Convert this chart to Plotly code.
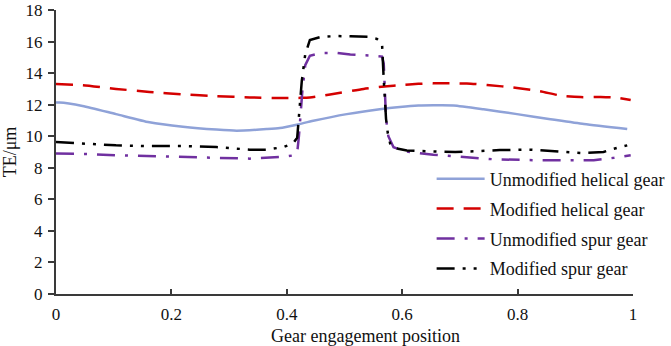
import plotly.graph_objects as go

# Unmodified helical gear
x_uh = [0, 0.006, 0.046, 0.104, 0.162, 0.22, 0.278, 0.313, 0.365, 0.388, 0.417, 0.446, 0.504,
        0.561, 0.596, 0.628, 0.654, 0.689, 0.741, 0.799, 0.857, 0.915, 0.99]
y_uh = [12.13, 12.14, 11.92, 11.4, 10.88, 10.6, 10.42, 10.35, 10.45, 10.52, 10.73, 10.98, 11.4,
        11.71, 11.85, 11.94, 11.96, 11.95, 11.71, 11.4, 11.08, 10.77, 10.46]

# Modified helical gear
x_mh = [0, 0.046, 0.104, 0.162, 0.22, 0.278, 0.336, 0.389, 0.42, 0.44, 0.475, 0.533, 0.574,
        0.596, 0.628, 0.654, 0.712, 0.747, 0.799, 0.839, 0.874, 0.909, 0.944, 0.972, 0.996]
y_mh = [13.31, 13.23, 13.0, 12.81, 12.65, 12.54, 12.46, 12.42, 12.43, 12.45, 12.65, 13.0, 13.17,
        13.24, 13.32, 13.35, 13.34, 13.25, 13.06, 12.85, 12.58, 12.48, 12.48, 12.44, 12.29]

# Unmodified spur gear
x_us = [0, 0.046, 0.104, 0.162, 0.22, 0.278, 0.336, 0.394, 0.414, 0.418, 0.421, 0.427, 0.432,
        0.44, 0.46, 0.488, 0.51, 0.55, 0.565, 0.568, 0.57, 0.572, 0.576, 0.585, 0.6, 0.613,
        0.654, 0.7, 0.758, 0.828, 0.886, 0.932, 0.967, 0.996]
y_us = [8.9, 8.88, 8.79, 8.73, 8.69, 8.63, 8.58, 8.69, 8.8, 8.95, 10.0, 12.9, 14.5,
        15.1, 15.28, 15.28, 15.18, 15.1, 15.05, 14.6, 12.8, 11.1, 10.0, 9.3, 9.1, 9.0,
        8.83, 8.69, 8.54, 8.48, 8.46, 8.48, 8.63, 8.79]

# Modified spur gear
x_ms = [0, 0.046, 0.104, 0.162, 0.22, 0.278, 0.336, 0.365, 0.394, 0.405, 0.412, 0.418, 0.421,
        0.426, 0.432, 0.44, 0.46, 0.488, 0.51, 0.54, 0.556, 0.565, 0.568, 0.57, 0.572, 0.575,
        0.58, 0.593, 0.608, 0.648, 0.692, 0.735, 0.769, 0.822, 0.862, 0.909, 0.949, 0.966, 0.99]
y_ms = [9.63, 9.52, 9.42, 9.375, 9.375, 9.31, 9.15, 9.15, 9.31, 9.46, 9.6, 9.9, 11.5,
        13.5, 15.2, 16.1, 16.3, 16.35, 16.33, 16.3, 16.17, 15.9, 13.6, 12.5, 11.1, 10.2,
        9.4, 9.2, 9.1, 9.04, 9.0, 9.06, 9.125, 9.15, 9.06, 8.94, 9.0, 9.2, 9.42]

names = ["Unmodified helical gear", "Modified helical gear",
         "Unmodified spur gear", "Modified spur gear"]
x_ticks = [0, 0.2, 0.4, 0.6, 0.8, 1]
x_tick_text = ["0", "0.2", "0.4", "0.6", "0.8", "1"]
y_ticks = [0, 2, 4, 6, 8, 10, 12, 14, 16, 18]

FONT = "Liberation Serif, Times New Roman, serif"
AX = "#3a3a3a"

fig = go.Figure()
fig.add_trace(go.Scatter(x=x_uh, y=y_uh, mode="lines", name=names[0], legendgroup="a",
                         line=dict(color="#8FA2D8", width=2.5, shape="spline", smoothing=0.6)))
fig.add_trace(go.Scatter(x=x_mh, y=y_mh, mode="lines", name=names[1], legendgroup="b",
                         line=dict(color="#D40000", width=2.5, dash="17px,10px",
                                   shape="spline", smoothing=0.6)))
fig.add_trace(go.Scatter(x=x_us, y=y_us, mode="lines", name=names[2], legendgroup="c",
                         line=dict(color="#7030A0", width=2.5, dash="18px,10px,3px,10px")))
fig.add_trace(go.Scatter(x=x_ms, y=y_ms, mode="lines", name=names[3], legendgroup="d",
                         line=dict(color="#000000", width=2.5,
                                   dash="18px,8px,3px,8px,3px,8px")))

fig.update_layout(
    width=671, height=346,
    margin=dict(l=56, r=38, t=10, b=52, autoexpand=False),
    paper_bgcolor="white", plot_bgcolor="white",
    font=dict(family=FONT, size=17, color="#111"),
    showlegend=True,
    legend=dict(x=0.651, y=0.47, xanchor="left", yanchor="top",
                bgcolor="rgba(0,0,0,0)", font=dict(family=FONT, size=18, color="#111"),
                traceorder="grouped", tracegroupgap=3.5, itemwidth=48),
    xaxis=dict(range=[0, 1], tickvals=x_ticks, ticktext=x_tick_text,
               showgrid=False, zeroline=False, showline=True, linecolor=AX, linewidth=2,
               ticks="inside", ticklen=5, tickwidth=1.5, tickcolor=AX,
               ticklabelstandoff=4, ticklabeloverflow="allow", automargin=False,
               tickfont=dict(family=FONT, size=17)),
    yaxis=dict(range=[0, 18], tickvals=y_ticks,
               showgrid=False, zeroline=False, showline=True, linecolor=AX, linewidth=2,
               ticks="outside", ticklen=6, tickwidth=1.5, tickcolor=AX,
               ticklabelstandoff=2, ticklabeloverflow="allow", automargin=False,
               tickfont=dict(family=FONT, size=17),
               title=dict(text="TE/μm", font=dict(family=FONT, size=18), standoff=9)),
    annotations=[dict(text="Gear engagement position", xref="paper", yref="paper",
                      x=0.536, y=0, yshift=-42, xanchor="center", yanchor="middle",
                      showarrow=False, font=dict(family=FONT, size=18, color="#111"))],
)

fig.write_html("out.html", config={"displayModeBar": False},
               post_script="document.body.style.margin='0';document.body.style.padding='0';")
